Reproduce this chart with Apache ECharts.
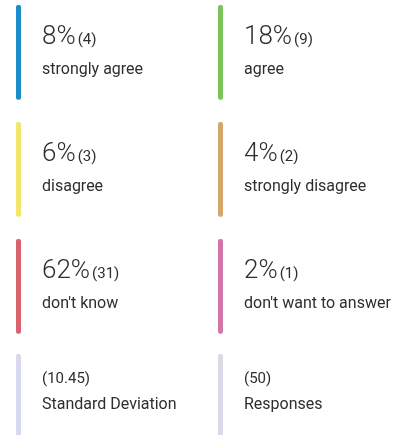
<!DOCTYPE html>
<html>
<head>
<meta charset="utf-8">
<script src="https://cdn.jsdelivr.net/npm/echarts@6/dist/echarts.min.js"></script>
<style>
html,body{margin:0;padding:0;background:#fff;}
#c{width:400px;height:435px;}
</style>
</head>
<body>
<div id="c"></div>
<script>
// Answer categories
const categories = ['strongly agree', 'agree', 'disagree', 'strongly disagree', "don't know", "don't want to answer"];
const percents = [8, 18, 6, 4, 62, 2];
const counts = [4, 9, 3, 2, 31, 1];
const colors = ['#1b8bca', '#7cc35a', '#f3e66c', '#d4a66c', '#d8636e', '#d275a8'];
// Summary statistics
const statLabels = ['Standard Deviation', 'Responses'];
const statValues = ['10.45', '50'];
const statColors = ['#d9d9ee', '#dadae8'];

const chart = echarts.init(document.getElementById('c'), null, {renderer: 'canvas'});
const FONT = 'Roboto, "Noto Sans", sans-serif';
const TXT = '#2e2e2e';

function tilePos(api) {
  const col = api.value(0), row = api.value(1);
  const p = api.coord([col, row]);
  const rowH = api.size([0, 1])[1];
  return {x: p[0], y: p[1], rowH: rowH};
}

chart.setOption({
  animation: false,
  grid: {left: 16, top: 5, right: 0, bottom: 0, outerBoundsMode: 'none'},
  xAxis: {type: 'value', min: 0, max: 384 / 202, show: false},
  yAxis: {type: 'value', min: 0, max: 430 / 117, inverse: true, show: false},
  series: [
    {
      type: 'custom',
      data: categories.map((c, i) => [i % 2, Math.floor(i / 2), i]),
      renderItem: function (params, api) {
        const i = api.value(2);
        const t = tilePos(api);
        const barH = t.rowH * 0.81;
        return {
          type: 'group',
          children: [
            {type: 'rect', shape: {x: t.x, y: t.y, width: 5, height: barH, r: 2}, style: {fill: colors[i]}},
            {type: 'text', x: t.x + 26, y: t.y + 19, style: {
              text: '{a|' + percents[i] + '%}{b|(' + counts[i] + ')}',
              verticalAlign: 'top', align: 'left',
              rich: {
                a: {fontSize: 26, fontWeight: 300, fontFamily: FONT, fill: TXT, verticalAlign: 'bottom', padding: [0, 2, 0, 0]},
                b: {fontSize: 15, fontFamily: FONT, fill: TXT, verticalAlign: 'bottom', padding: [0, 0, 2, 0]}
              }
            }},
            {type: 'text', x: t.x + 26, y: t.y + 57, style: {
              text: categories[i], fontSize: 16, fontFamily: FONT, fill: TXT, verticalAlign: 'top', align: 'left'
            }}
          ]
        };
      }
    },
    {
      type: 'custom',
      data: statLabels.map((s, i) => [i, 3, i]),
      renderItem: function (params, api) {
        const i = api.value(2);
        const t = tilePos(api);
        const barH = t.rowH * 0.81;
        return {
          type: 'group',
          children: [
            {type: 'rect', shape: {x: t.x, y: t.y - 2, width: 5, height: barH, r: 2}, style: {fill: statColors[i]}},
            {type: 'text', x: t.x + 26, y: t.y + 16, style: {
              text: '(' + statValues[i] + ')', fontSize: 15, fontFamily: FONT, fill: TXT, verticalAlign: 'top', align: 'left'
            }},
            {type: 'text', x: t.x + 26, y: t.y + 41, style: {
              text: statLabels[i], fontSize: 16, fontFamily: FONT, fill: TXT, verticalAlign: 'top', align: 'left'
            }}
          ]
        };
      }
    }
  ]
});
</script>
</body>
</html>
